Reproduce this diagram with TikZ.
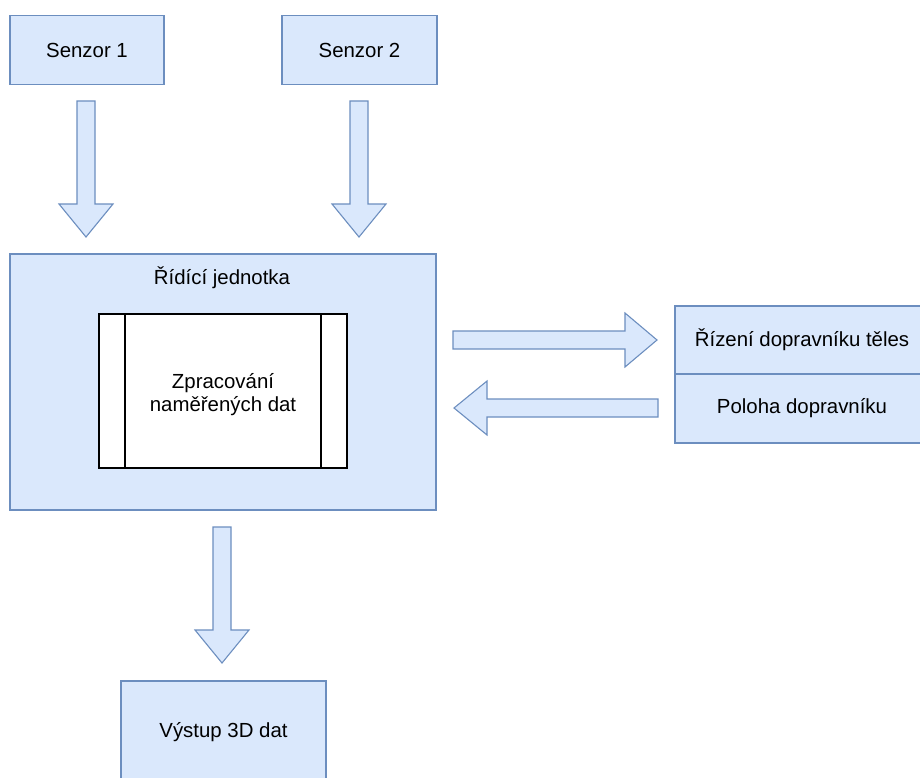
\documentclass[tikz,border=0pt]{standalone}
\usepackage{fontspec}
\setmainfont{Liberation Sans}
\usetikzlibrary{positioning}
\definecolor{boxfill}{HTML}{DAE8FC}
\definecolor{boxline}{HTML}{6C8EBF}
\tikzset{
  box/.style={draw=boxline, fill=boxfill, line width=1.1pt, rectangle, inner sep=0pt,
              font=\fontsize{20.4}{23}\selectfont, align=center},
  blockarrow/.style={draw=boxline, fill=boxfill, line width=1.1pt, line join=miter},
  procbox/.style={draw=black, fill=white, line width=1.4pt, rectangle, inner sep=0pt, outer sep=0pt},
  proctext/.style={font=\fontsize{20.4}{23}\selectfont, align=center, inner sep=0pt},
}
% vertical block arrow: centre x, shaft top, head base, tip
\newcommand{\blockdown}[4]{%
  \draw[blockarrow] (#1-9,#2) -- (#1+9,#2) -- (#1+9,#3) -- (#1+27,#3) -- (#1,#4)
    -- (#1-27,#3) -- (#1-9,#3) -- cycle;}
% horizontal block arrow: centre y, shaft end, head base, tip
\newcommand{\blockhoriz}[4]{%
  \draw[blockarrow] (#2,#1-9) -- (#3,#1-9) -- (#3,#1-27) -- (#4,#1) -- (#3,#1+27)
    -- (#3,#1+9) -- (#2,#1+9) -- cycle;}
\begin{document}
\begin{tikzpicture}[x=1pt, y=-1pt]
  \useasboundingbox (0,0) rectangle (920,778);
  \clip (0,0) rectangle (920,778);

  % sensors
  \node[box, minimum width=154pt, minimum height=69pt] (s1) at (87,50) {Senzor 1};
  \node[box, minimum width=155pt, minimum height=69pt] (s2) at (359.5,50) {Senzor 2};

  % control unit with the processing block
  \node[box, minimum width=426pt, minimum height=256pt] (ctrl) at (223,382) {};
  \node[font=\fontsize{20.4}{25}\selectfont] (ctrltitle) at (222,278) {Řídící jednotka};
  \node[procbox, minimum width=248pt, minimum height=154pt] (proc) at (223,391) {};
  \draw[black, line width=1.4pt] (proc.north west) ++(26,0) -- ++(0,154);
  \draw[black, line width=1.4pt] (proc.north east) ++(-26,0) -- ++(0,154);
  \node[proctext] (proclabel) at (223,395) {Zpracování\\naměřených dat};

  % conveyor block
  \node[box, minimum width=254pt, minimum height=68pt] (conv1) at (802,340) {Řízení dopravníku těles};
  \node[box, minimum width=254pt, minimum height=69pt] (conv2) at (802,408.5) {Poloha dopravníku};

  % output
  \node[box, minimum width=205pt, minimum height=102pt] (out) at (223.5,732) {Výstup 3D dat};

  % block arrows
  \blockdown{86}{101}{204}{237}
  \blockdown{359}{101}{204}{237}
  \blockdown{222}{527}{630}{663}
  \blockhoriz{340}{453}{625}{657}
  \blockhoriz{408}{658}{487}{454}
\end{tikzpicture}
\end{document}
